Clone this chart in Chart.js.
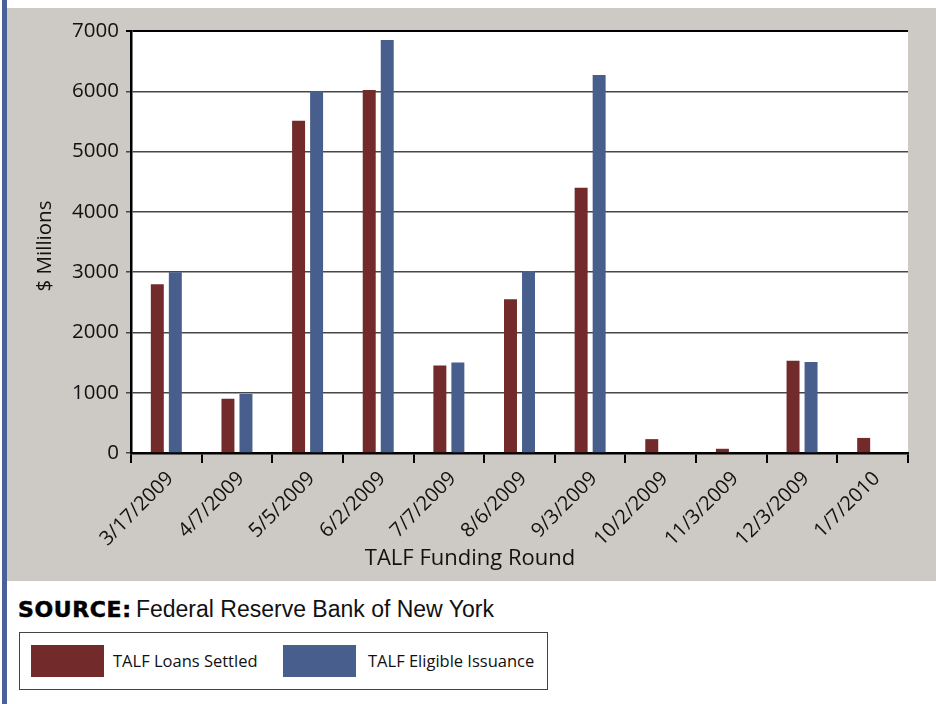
<!DOCTYPE html>
<html>
<head>
<meta charset="utf-8">
<script src="https://cdn.jsdelivr.net/npm/chart.js@4"></script>
<style>
  body { margin: 0; background: #fff; width: 936px; height: 704px; position: relative; overflow: hidden; }
  #strip { position: absolute; left: 2px; top: 0; width: 5px; height: 704px; background: #4a6198; }
  #panel { position: absolute; left: 7px; top: 8px; width: 929px; height: 573px; background: #cdcac5; }
  #source { position: absolute; left: 18px; top: 596px; font-family: "Liberation Sans", Arial, sans-serif; font-size: 23px; color: #111; white-space: nowrap; }
  #source b { font-family: "DejaVu Sans", sans-serif; font-weight: bold; font-size: 22px; letter-spacing: 0.6px; -webkit-text-stroke: 0.5px #000; color: #000; margin-right: -2px; }
  #legend { position: absolute; left: 19px; top: 632px; width: 527px; height: 56px; border: 1px solid #444; }
  .sw { position: absolute; top: 12px; width: 73px; height: 32px; }
  .lt { position: absolute; top: 12px; line-height: 32px; font-family: "Open Sans", sans-serif; font-size: 16.5px; color: #111; white-space: nowrap; }
</style>
</head>
<body>
<div id="strip"></div>
<div id="panel"><canvas id="talfChart" width="929" height="573"></canvas></div>
<div id="source"><b>SOURCE:</b> Federal Reserve Bank of New York</div>
<div id="legend">
  <div class="sw" style="left:11px;background:#722a2a"></div>
  <div class="lt" style="left:93px">TALF Loans Settled</div>
  <div class="sw" style="left:263px;background:#485f8e"></div>
  <div class="lt" style="left:348px">TALF Eligible Issuance</div>
</div>
<script>
const rounds = ["3/17/2009", "4/7/2009", "5/5/2009", "6/2/2009", "7/7/2009", "8/6/2009",
  "9/3/2009", "10/2/2009", "11/3/2009", "12/3/2009", "1/7/2010"];
const loansSettled = [2800, 900, 5510, 6020, 1450, 2550, 4400, 230, 70, 1530, 250];
const eligibleIssuance = [3000, 980, 6000, 6850, 1500, 3020, 6270, 0, 0, 1510, 0];
const yTicks = [0, 1000, 2000, 3000, 4000, 5000, 6000, 7000];

const RED = "#722a2a";
const BLUE = "#485f8e";

// white plot area + axis titles
const plotDecor = {
  id: "plotDecor",
  beforeDraw(chart) {
    const { ctx, chartArea: a } = chart;
    ctx.save();
    ctx.fillStyle = "#fff";
    ctx.fillRect(a.left, a.top, a.right - a.left, a.bottom - a.top);
    ctx.restore();
  },
  afterDraw(chart) {
    const { ctx } = chart;
    ctx.save();
    ctx.fillStyle = "#111";
    ctx.font = '22px "Open Sans"';
    ctx.textAlign = "center";
    ctx.textBaseline = "alphabetic";
    ctx.fillText("TALF Funding Round", 463, 557);
    ctx.translate(38, 238);
    ctx.rotate(-Math.PI / 2);
    ctx.font = '20.5px "Open Sans"';
    ctx.textBaseline = "middle";
    ctx.fillText("$ Millions", 0, 0);
    ctx.restore();
  }
};

const ctx = document.getElementById("talfChart").getContext("2d");
new Chart(ctx, {
  type: "bar",
  data: {
    labels: rounds,
    datasets: [
      { label: "TALF Loans Settled", data: loansSettled, backgroundColor: RED },
      { label: "TALF Eligible Issuance", data: eligibleIssuance, backgroundColor: BLUE }
    ]
  },
  options: {
    responsive: false,
    animation: false,
    devicePixelRatio: 1,
    categoryPercentage: 0.51,
    barPercentage: 0.72,
    layout: { padding: { top: 23, right: 28, left: 0, bottom: 0 } },
    plugins: { legend: { display: false }, tooltip: { enabled: false } },
    scales: {
      x: {
        grid: { offset: true, drawOnChartArea: false, drawTicks: true, tickLength: 10, color: "#000", lineWidth: 2 },
        border: { color: "#000", width: 2.5 },
        ticks: {
          color: "#111",
          font: { family: "Open Sans", size: 20 },
          maxRotation: 45,
          minRotation: 45,
          labelOffset: 4,
          padding: 4,
          autoSkip: false
        },
        afterFit(scale) { scale.height = 128; }
      },
      y: {
        min: 0,
        max: 7000,
        afterBuildTicks(scale) { scale.ticks = yTicks.map(v => ({ value: v })); },
        grid: {
          color: c => (c.tick && c.tick.value === 7000 ? "#000" : "#474747"),
          lineWidth: c => (c.tick && c.tick.value === 7000 ? 2 : 1.5),
          tickLength: 5
        },
        border: { color: "#000", width: 2.5 },
        ticks: {
          color: "#111",
          font: { family: "Open Sans", size: 20.5 },
          padding: 7,
          callback: v => String(v)
        },
        afterFit(scale) { scale.width = 124; }
      }
    }
  },
  plugins: [plotDecor]
});
</script>
</body>
</html>
